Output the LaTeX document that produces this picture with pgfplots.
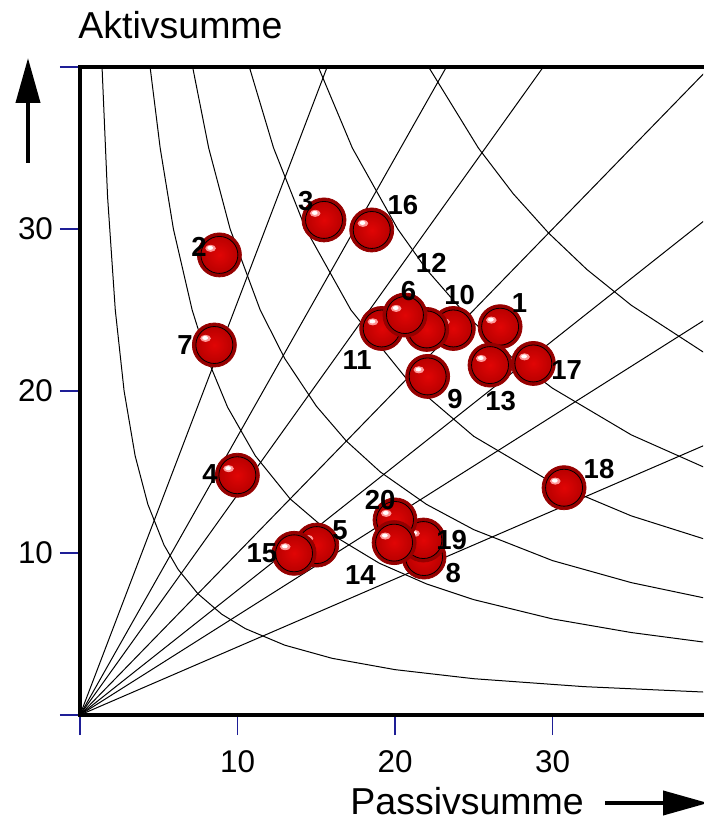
\documentclass[border=0pt]{standalone}
\usepackage{fontspec}
\setmainfont{Liberation Sans}
\usepackage{pgfplots}
\pgfplotsset{compat=1.18}
\usetikzlibrary{arrows.meta}
\definecolor{tickblue}{RGB}{30,30,150}
\definecolor{sphererim}{RGB}{150,0,0}
\definecolor{spheremid}{RGB}{185,0,0}
\definecolor{spherein}{RGB}{225,5,5}

\pgfdeclareplotmark{sphere}{%
  \fill[sphererim] (0,0) circle [radius=\pgfplotmarksize];
  \shade[inner color=spherein, outer color=spheremid] (0,0) circle [radius=0.84\pgfplotmarksize];
  \fill[red!40!white] (-0.4\pgfplotmarksize,0.3\pgfplotmarksize) ellipse [x radius=0.22\pgfplotmarksize, y radius=0.14\pgfplotmarksize];
  \fill[white] (-0.42\pgfplotmarksize,0.32\pgfplotmarksize) ellipse [x radius=0.11\pgfplotmarksize, y radius=0.07\pgfplotmarksize];
}

\begin{document}
\begin{tikzpicture}
\begin{axis}[
  at={(0,0)}, anchor=south west,
  scale only axis, width=311.5pt, height=324pt,
  xmin=0, xmax=39.55, ymin=0, ymax=40,
  axis line style={draw=none},
  xtick={0,10,20,30,40}, xticklabels={,10,20,30,},
  ytick={0,10,20,30,40}, yticklabels={,10,20,30,},
  tick pos=left, tick align=outside, major tick length=10pt,
  tick style={color=tickblue, line width=0.6pt},
  /pgf/number format/assume math mode=true,
  tick label style={font=\fontsize{15.7}{18}\selectfont},
  xticklabel style={yshift=-4.5pt},
  clip=true,
]
% hyperbolas
\addplot[black, line width=0.5pt, mark=none] coordinates {(1.4,40)(1.75,32)(2.24,25)(2.8,20)(3.5,16)(4.31,13)(5.33,10.5)(6.22,9)(7.48,7.49)(9,6.22)(10.5,5.33)(13,4.31)(16,3.5)(20,2.8)(25,2.24)(32,1.75)(40,1.4)};
\addplot[black, line width=0.5pt, mark=none] coordinates {(4.45,40)(5.09,35)(5.93,30)(7.12,25)(8.09,22)(9.37,19)(11.13,16)(13.34,13.34)(16,11.13)(19,9.37)(22,8.09)(25,7.12)(30,5.93)(35,5.09)(40,4.45)};
\addplot[black, line width=0.5pt, mark=none] coordinates {(7.15,40)(8.17,35)(9.53,30)(11.44,25)(13,22)(15,19.07)(16.91,16.91)(19.07,15)(22,13)(25,11.44)(30,9.53)(35,8.17)(40,7.15)};
\addplot[black, line width=0.5pt, mark=none] coordinates {(10.75,40)(12.29,35)(14.33,30)(17.2,25)(20.74,20.74)(25,17.2)(30,14.33)(35,12.29)(40,10.75)};
\addplot[black, line width=0.5pt, mark=none] coordinates {(15.13,40)(17.29,35)(20.17,30)(22,27.5)(24.6,24.6)(27.5,22)(30,20.17)(35,17.29)(40,15.13)};
\addplot[black, line width=0.5pt, mark=none] coordinates {(22.13,40)(25.29,35)(27.5,32.18)(29.75,29.75)(32.18,27.5)(35,25.29)(40,22.13)};
% rays
\addplot[black, line width=0.5pt, mark=none] coordinates {(0,0)(15.69,40)};
\addplot[black, line width=0.5pt, mark=none] coordinates {(0,0)(23.26,40)};
\addplot[black, line width=0.5pt, mark=none] coordinates {(0,0)(29.41,40)};
\addplot[black, line width=0.5pt, mark=none] coordinates {(0,0)(40,40)};
\addplot[black, line width=0.5pt, mark=none] coordinates {(0,0)(40,30.8)};
\addplot[black, line width=0.5pt, mark=none] coordinates {(0,0)(40,24.6)};
\addplot[black, line width=0.5pt, mark=none] coordinates {(0,0)(40,16.8)};
% elements
\addplot[only marks, mark=sphere, mark size=11pt] table {
x y
18.52 29.94
15.49 30.56
8.85 28.4
8.53 22.84
9.99 14.8
30.73 14.03
22.07 20.9
23.7 23.86
22.01 23.8
19.15 23.86
20.63 24.69
26.67 23.97
26.03 21.6
28.78 21.7
15.03 10.49
13.59 9.98
21.84 9.75
21.8 10.8
20.0 12.04
19.94 10.64
};
% labels
\addplot[only marks, mark=none, point meta=explicit symbolic,
  nodes near coords,
  every node near coord/.append style={anchor=center, inner sep=0pt,
    font=\bfseries\fontsize{13.75}{16}\selectfont, text=black}]
  table[meta=lab] {
x y lab
27.9 25.4 1
7.56 28.9 2
14.33 31.7 3
8.25 14.9 4
16.5 11.4 5
20.85 26.2 6
6.67 22.84 7
23.7 8.75 8
23.8 19.5 9
24.1 25.9 10
17.6 21.9 11
22.3 27.9 12
26.7 19.4 13
17.8 8.64 14
11.55 10.0 15
20.5 31.5 16
30.9 21.3 17
32.95 15.2 18
23.6 10.8 19
19.05 13.3 20
};
\coordinate (TR) at (axis cs:39.55,40);
\coordinate (TL) at (axis cs:0,40);
\coordinate (BL) at (axis cs:0,0);
\coordinate (BR) at (axis cs:39.55,0);
\end{axis}
\draw[line width=2pt, line join=miter, line cap=rect] ([xshift=2pt]TR) -- (TL) -- (BL) -- ([xshift=2pt]BR);
\draw[line width=2pt, -{Triangle[length=22.5pt,width=12pt]}] (-26pt,276pt) -- (-26pt,328.5pt);
\draw[line width=2pt, -{Triangle[length=22.5pt,width=12pt]}] (262.5pt,-44pt) -- (314pt,-44pt);
\node[anchor=base west, inner sep=0pt, font=\fontsize{18.75}{22}\selectfont] at (-1pt,338pt) {Aktivsumme};
\node[anchor=base west, inner sep=0pt, font=\fontsize{18.75}{22}\selectfont] at (135pt,-49.5pt) {Passivsumme};
\pgfresetboundingbox
\useasboundingbox (-40pt,-53pt) rectangle (311.5pt,357.5pt);
\end{tikzpicture}
\end{document}
